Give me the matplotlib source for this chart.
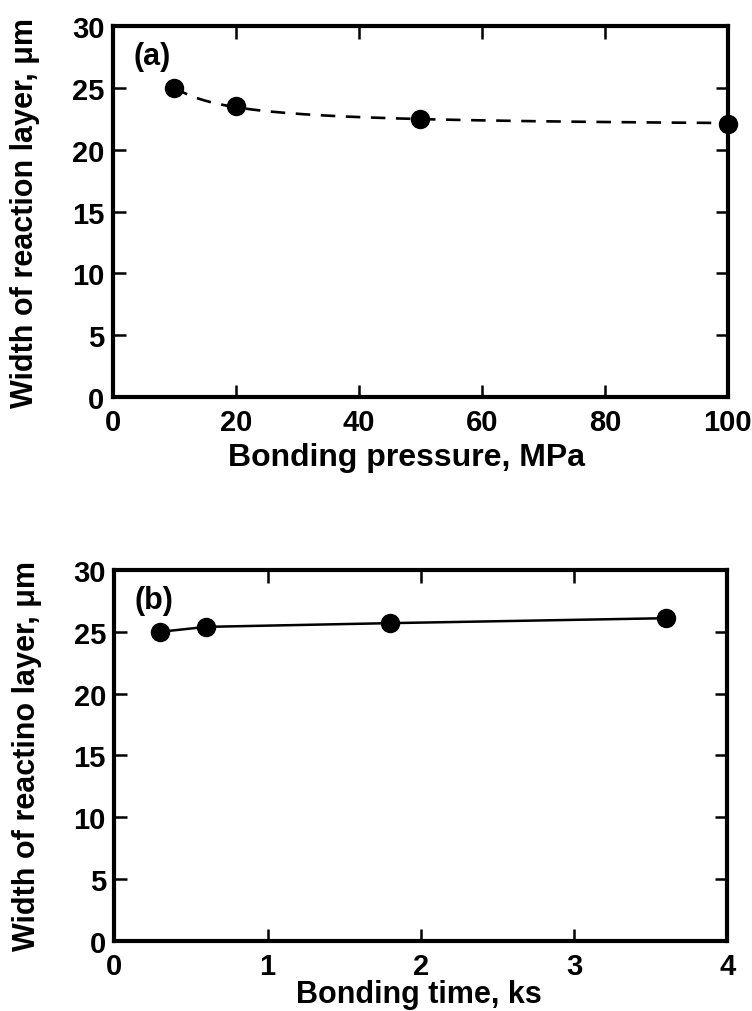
import matplotlib
matplotlib.use("Agg")
import matplotlib.pyplot as plt
import numpy as np

# (a) width vs bonding pressure
pressure_mpa = [10, 20, 50, 100]
width_a_um = [25.0, 23.5, 22.5, 22.1]

# (b) width vs bonding time
time_ks = [0.3, 0.6, 1.8, 3.6]
width_b_um = [25.0, 25.4, 25.7, 26.1]

plt.rcParams["font.family"] = ["Liberation Sans", "DejaVu Sans"]
plt.rcParams["font.weight"] = "bold"

fig = plt.figure(figsize=(7.52, 10.12), dpi=100)
ax_a = fig.add_axes([0.150, 0.6067, 0.818, 0.3666])
ax_b = fig.add_axes([0.152, 0.0692, 0.815, 0.3666])


def style_axes(ax):
    for spine in ax.spines.values():
        spine.set_linewidth(3.0)
    ax.tick_params(direction="in", length=9, width=1.8, top=True, right=True,
                   labelsize=21)
    ax.tick_params(axis="x", pad=8)
    ax.tick_params(axis="y", pad=6)
    for lab in ax.get_xticklabels() + ax.get_yticklabels():
        lab.set_fontweight("bold")
    ax.set_ylim(0, 30)
    ax.set_yticks([0, 5, 10, 15, 20, 25, 30])


# panel (a): dashed fitted curve y = a + b/x
coef = np.polyfit(1.0 / np.asarray(pressure_mpa, dtype=float), width_a_um, 1)
xs = np.linspace(min(pressure_mpa), max(pressure_mpa), 200)
ax_a.plot(xs, coef[1] + coef[0] / xs, color="black", linestyle=(0, (5.5, 4)),
          linewidth=1.9, clip_on=False)
ax_a.plot(pressure_mpa, width_a_um, "o", color="black", markersize=13, clip_on=False, zorder=5)
ax_a.set_xlim(0, 100)
ax_a.set_xticks([0, 20, 40, 60, 80, 100])
style_axes(ax_a)
ax_a.set_xlabel("Bonding pressure, MPa", fontsize=23, fontweight="bold", va="top")
ax_a.xaxis.set_label_coords(0.478, -0.122)
ax_a.set_ylabel("Width of reaction layer, \u03bcm", fontsize=22, fontweight="bold")
ax_a.yaxis.set_label_coords(-0.118, 0.5)
ax_a.text(0.033, 0.919, "(a)", transform=ax_a.transAxes, fontsize=22, fontweight="bold",
          ha="left", va="center")

# panel (b): solid line through points
ax_b.plot(time_ks, width_b_um, "-o", color="black", linewidth=1.8, markersize=13,
          clip_on=False, zorder=5)
ax_b.set_xlim(0, 4)
ax_b.set_xticks([0, 1, 2, 3, 4])
style_axes(ax_b)
ax_b.set_xlabel("Bonding time, ks", fontsize=22, fontweight="bold", va="top")
ax_b.xaxis.set_label_coords(0.497, -0.102)
ax_b.set_ylabel("Width of reactino layer, \u03bcm", fontsize=22, fontweight="bold")
ax_b.yaxis.set_label_coords(-0.118, 0.5)
ax_b.text(0.033, 0.919, "(b)", transform=ax_b.transAxes, fontsize=22, fontweight="bold",
          ha="left", va="center")

fig.savefig("out.png", dpi=100)
